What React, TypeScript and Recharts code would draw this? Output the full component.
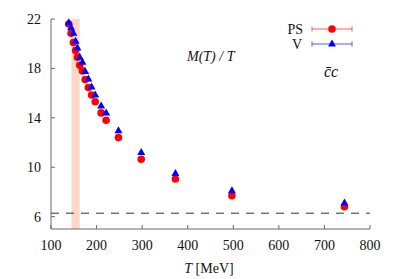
import React from 'react';
import {
  ScatterChart,
  Scatter,
  XAxis,
  YAxis,
  ReferenceArea,
  ReferenceLine,
} from 'recharts';

// temperatures (MeV) and M(T)/T for the two channels
const temps = [139, 144, 149, 154, 158, 163, 169, 175, 182, 189, 197, 210, 221, 248, 298, 373, 497, 744];
const psValues = [21.6, 20.85, 20.1, 19.45, 18.9, 18.25, 17.8, 17.1, 16.45, 15.85, 15.3, 14.4, 13.8, 12.4, 10.65, 9.05, 7.7, 6.8];
const vValues = [21.7, 21.3, 20.85, 20.2, 19.65, 18.9, 18.5, 17.75, 17.15, 16.5, 15.85, 14.95, 14.4, 12.95, 11.2, 9.5, 8.1, 7.1];

const xTicks = [100, 200, 300, 400, 500, 600, 700, 800];
const yTicks = [6, 10, 14, 18, 22];
const tcBand = [145, 163];
const freeLimit = 6.28;

const psData = temps.map((T, i) => ({ T, val: psValues[i] }));
const vData = temps.map((T, i) => ({ T, val: vValues[i] }));

const FONT = '"Liberation Serif", "DejaVu Serif", serif';
const AXIS = '#6a6a6a';

const BottomTick = ({ x, y, payload }: any) => (
  <g>
    <line x1={x} x2={x} y1={y} y2={y - 4} stroke={AXIS} />
    <text x={x} y={y + 21} textAnchor="middle" fontFamily={FONT} fontSize={14} fill="#111">
      {payload.value}
    </text>
  </g>
);

const TopTick = ({ x, y }: any) => <line x1={x} x2={x} y1={y} y2={y + 4} stroke={AXIS} />;

const LeftTick = ({ x, y, payload }: any) => (
  <g>
    <line x1={x} x2={x + 4} y1={y} y2={y} stroke={AXIS} />
    <text x={x - 10} y={y + 5} textAnchor="end" fontFamily={FONT} fontSize={14} fill="#111">
      {payload.value}
    </text>
  </g>
);

const RightTick = ({ x, y }: any) => <line x1={x} x2={x - 4} y1={y} y2={y} stroke={AXIS} />;

const Dot = ({ cx, cy }: any) => <circle cx={cx} cy={cy} r={3.8} fill="#ff0000" />;
const Tri = ({ cx, cy }: any) => (
  <polygon points={`${cx},${cy - 4.5} ${cx - 4},${cy + 2.5} ${cx + 4},${cy + 2.5}`} fill="#0000ff" />
);

const App: React.FC = () => {
  return (
    <div style={{ position: 'absolute', left: 0, top: 0, width: 398, height: 279, background: '#fff' }}>
      <ScatterChart width={398} height={279} margin={{ top: 19, right: 28, bottom: 0, left: 0 }}>
        <XAxis
          dataKey="T"
          type="number"
          domain={[100, 800]}
          ticks={xTicks}
          interval={0}
          height={50}
          stroke={AXIS}
          tickLine={false}
          tickSize={0}
          tickMargin={0}
          tick={<BottomTick />}
        />
        <XAxis
          xAxisId="top"
          orientation="top"
          dataKey="T"
          type="number"
          domain={[100, 800]}
          ticks={xTicks}
          interval={0}
          height={0}
          stroke={AXIS}
          tickLine={false}
          tickSize={0}
          tickMargin={0}
          tick={<TopTick />}
        />
        <YAxis
          dataKey="val"
          type="number"
          domain={[5, 22]}
          ticks={yTicks}
          interval={0}
          width={51}
          stroke={AXIS}
          tickLine={false}
          tickSize={0}
          tickMargin={0}
          tick={<LeftTick />}
        />
        <YAxis
          yAxisId="right"
          orientation="right"
          dataKey="val"
          type="number"
          domain={[5, 22]}
          ticks={yTicks}
          interval={0}
          width={0}
          stroke={AXIS}
          tickLine={false}
          tickSize={0}
          tickMargin={0}
          tick={<RightTick />}
        />
        <ReferenceArea x1={tcBand[0]} x2={tcBand[1]} y1={5} y2={22} fill="#fcd6c6" fillOpacity={1} stroke="none" />
        <ReferenceLine y={freeLimit} stroke="#333" strokeDasharray="8 7" />
        <Scatter data={psData} shape={<Dot />} isAnimationActive={false} />
        <Scatter data={vData} shape={<Tri />} isAnimationActive={false} />
      </ScatterChart>

      {/* labels and legend */}
      <svg width={398} height={279} style={{ position: 'absolute', left: 0, top: 0, pointerEvents: 'none' }}>
        <text x={303} y={34} textAnchor="end" fontFamily={FONT} fontSize={14} fill="#111">PS</text>
        <line x1={312} x2={352} y1={29} y2={29} stroke="#ff5a5a" strokeWidth={1.2} />
        <line x1={312} x2={312} y1={26.5} y2={31.5} stroke="#ff5a5a" />
        <line x1={352} x2={352} y1={26.5} y2={31.5} stroke="#ff5a5a" />
        <circle cx={332} cy={29} r={3.8} fill="#ff0000" />

        <text x={302} y={49} textAnchor="end" fontFamily={FONT} fontSize={14} fill="#111">V</text>
        <line x1={312} x2={352} y1={44} y2={44} stroke="#5a5aff" strokeWidth={1.2} />
        <line x1={312} x2={312} y1={41.5} y2={46.5} stroke="#5a5aff" />
        <line x1={352} x2={352} y1={41.5} y2={46.5} stroke="#5a5aff" />
        <polygon points="332,39.5 328,46.5 336,46.5" fill="#0000ff" />

        <text x={187} y={61} fontFamily={FONT} fontSize={14} fontStyle="italic" fill="#111">M(T) / T</text>
        <text x={324} y={77} fontFamily={FONT} fontSize={16} fontStyle="italic" fill="#111">c̄c</text>

        <text x={209} y={273} textAnchor="middle" fontFamily={FONT} fontSize={14} fill="#111">
          <tspan fontStyle="italic">T</tspan> [MeV]
        </text>
      </svg>
    </div>
  );
};

export default App;
